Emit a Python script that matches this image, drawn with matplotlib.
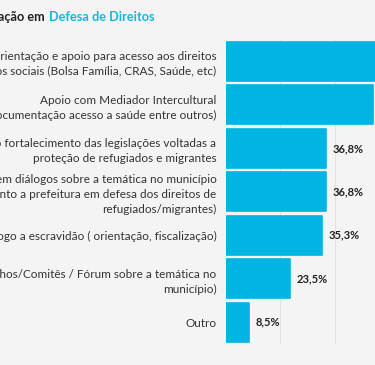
import matplotlib.pyplot as plt

plt.rcParams['font.family'] = ['Lato', 'DejaVu Sans']

# dados
categorias = [
    'Orientação e apoio para acesso aos direitos\ne serviços sociais (Bolsa Família, CRAS, Saúde, etc)',
    'Apoio com Mediador Intercultural\n(documentação acesso a saúde entre outros)',
    'Apoio no fortalecimento das legislações voltadas a\nproteção de refugiados e migrantes',
    'Participação em diálogos sobre a temática no município\n(junto a prefeitura em defesa dos direitos de\nrefugiados/migrantes)',
    'Combate ao trabalho análogo a escravidão ( orientação, fiscalização)',
    '(Conselhos/Comitês / Fórum sobre a temática no\nmunicípio)',
    'Outro',
]
valores = [60.3, 54.0, 36.8, 36.8, 35.3, 23.5, 8.5]
rotulos = ['60,3%', '54,0%', '36,8%', '36,8%', '35,3%', '23,5%', '8,5%']

azul = '#00b4e3'
fundo = '#f4f4f4'

fig = plt.figure(figsize=(3.75, 3.65), dpi=100, facecolor=fundo)
ax = fig.add_axes([0.603, 0.058, 0.397, 0.833], facecolor=fundo)

pos = list(range(len(valores)))
ax.barh(pos, valores, height=0.9, color=azul, edgecolor=azul,
        linewidth=1.2, joinstyle='round', zorder=3)

for y, v, r in zip(pos, valores, rotulos):
    ax.text(v + 2.5, y, r, va='center', ha='left', fontsize=8,
            fontweight='bold', color='#222222')

ax.set_xlim(0, 54.8)
ax.set_ylim(6.5, -0.5)
ax.set_yticks(pos)
ax.set_yticklabels(categorias, fontsize=8.5, color='#333333', linespacing=1.42)
ax.tick_params(axis='y', length=0, pad=7)
ax.set_xticks([20, 40])
ax.tick_params(axis='x', length=0, labelbottom=False)
ax.grid(axis='x', color='#e2e2e2', linewidth=0.8, zorder=0)
for s in ax.spines.values():
    s.set_visible(False)

# título
fig.text(48 / 375, 1 - 17 / 365, 'Atuação em ', ha='right', va='center',
         fontsize=9.2, fontweight='bold', color='#222222')
fig.text(49 / 375, 1 - 17 / 365, 'Defesa de Direitos', ha='left', va='center',
         fontsize=9.2, fontweight='bold', color='#1ab3dc')

fig.savefig('out.png', dpi=100, facecolor=fundo)
